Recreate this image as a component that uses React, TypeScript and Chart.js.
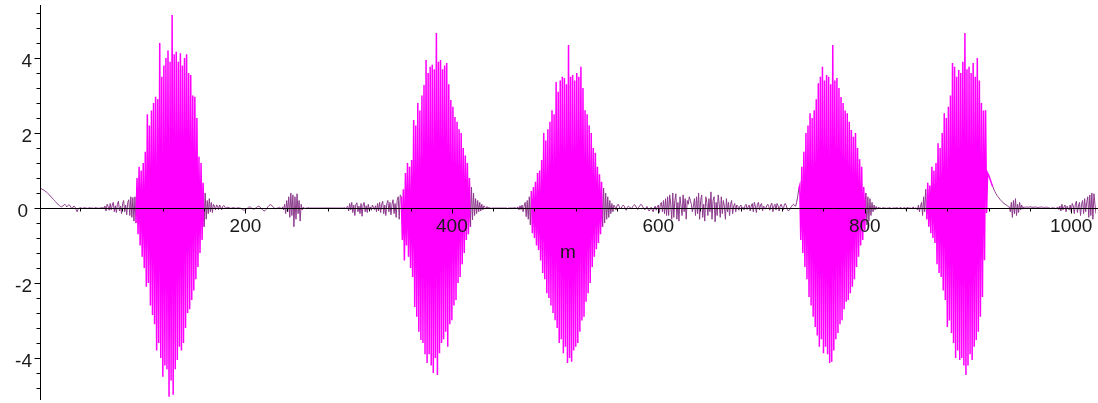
import React, { useEffect, useRef } from "react";
import { Chart, registerables } from "chart.js";

Chart.register(...registerables);

// ---- axis ranges & ticks ----
const X_MIN = 1;
const X_MAX = 1024;
const Y_MIN = -5.12;
const Y_MAX = 5.387;
const xMajorTicks = [200, 400, 600, 800, 1000];
const xMinorStep = 40;
const yMajorTicks = [-4, -2, 0, 2, 4];
const yMinorStep = 0.4;
const xAxisTitle = "m";

// ---- signal samples (segment start index, values) ----
const lead = [
  0.53, 0.52, 0.5, 0.49, 0.47, 0.45, 0.43, 0.41, 0.38, 0.35, 0.32, 0.29, 0.26, 0.23, 0.2, 0.17, 0.14, 0.11, 0.08, 0.06, 0.04, 0.03,
  0.05, 0.08, 0.1, 0.07, 0.03, 0.06, 0.09, 0.06, 0.02, -0.02, 0.03, 0.05, 0.02, -0.04, -0.1, -0.03,
  0, 0.01, 0, -0.01, 0, 0.01, 0, 0, -0.01, 0, 0.01, 0, 0, 0, -0.01, 0, 0.01, 0, 0, -0.01, 0, 0, 0.01, 0, 0,
  0.05, -0.08, 0.1, 0.04, -0.06, 0.12, -0.05, 0.08, 0.15, -0.1, 0.06, -0.12, 0.1, 0.18, -0.08, 0.05, -0.15, 0.12, 0.2, -0.1,
  0.08, -0.18, 0.15, 0.22, -0.2, 0.3, -0.25, 0.28, -0.35,
];
const burst1 = [
  0.3, -0.4, 0.8, -0.7, 1.1, -1.0, 1.0, -1.3, 1.2, -1.6, 1.5, -2.1, 2.5, -2.0, 2.2, -2.6, 2.6, -2.85, 2.8, -3.1,
  2.97, -3.8, 2.9, -3.6, 4.4, -4.0, 3.5, -4.5, 3.8, -4.2, 4.0, -4.3, 4.2, -5.03, 3.9, -4.6, 5.15, -4.98, 4.1, -4.3,
  4.17, -4.05, 3.9, -3.7, 4.13, -3.8, 3.8, -3.6, 4.0, -3.2, 4.1, -2.8, 3.6, -2.7, 3.55, -2.45, 3.0, -2.2, 2.97, -1.9,
  2.4, -1.57, 1.37, -1.2, 1.2, -0.85, 0.67, -0.5, 0.4,
];
const tail1 = [-0.3, 0.2, -0.15, 0.25, -0.1, 0.15, -0.12, 0.1, 0.05, -0.05, 0.08];
const quiet1 = [
  0.06, -0.04, 0.08, 0.03, -0.05, 0.04, 0.07, 0.02,
  0, 0.01, 0.02, 0.01, 0, -0.01, 0, 0.01, 0, 0, -0.01, 0, 0.01, 0, 0,
  -0.02, -0.04, -0.05, -0.06, -0.05, -0.03, 0, 0.02, 0.03, 0.02, 0, -0.02, -0.03, -0.02, 0, 0.02, 0.04, 0.05, 0.03, 0,
  -0.03, -0.06, -0.08, -0.07, -0.04, 0, 0.04, 0.07, 0.09, 0.08, 0.05, 0.02, 0, -0.02, -0.01, 0, 0.01, 0.02, 0, -0.02, 0.03, -0.05,
];
const blip1 = [0.1, -0.15, 0.2, -0.1, 0.3, -0.25, 0.4, -0.2, 0.35, -0.5, 0.3, -0.3, 0.38, -0.15, 0.2, -0.35, 0.1, -0.05];
const flat1 = [
  0.02, 0, -0.01, 0, 0, 0.01, 0, 0, 0, 0, 0, 0, 0, 0, 0, 0, 0, 0, 0, 0, 0, 0,
  0, 0, 0, 0, 0, 0, 0, 0, 0, 0, 0, 0, 0, 0, 0, 0, 0, 0, 0.01, -0.01, 0.02,
];
const noise1 = [
  0.05, -0.08, 0.12, -0.05, 0.15, -0.12, 0.08, -0.2, 0.1, 0.14, -0.1, 0.05, -0.15, 0.12, -0.22, 0.08, 0.15, -0.1, 0.06, -0.12,
  0.1, -0.05, 0.03, -0.06, 0.08, 0.02, -0.04, 0.06, -0.1, 0.12, -0.08, 0.15, -0.12, 0.1, 0.18, -0.15, 0.08, -0.2, 0.12, 0.2,
  -0.1, 0.15, -0.18, 0.1, 0.22, -0.15, 0.12, -0.25, 0.2, 0.3, -0.3, 0.35,
];
const burst2 = [
  0.3, -0.85, 0.5, -1.4, 0.93, -1.0, 1.2, -1.3, 1.1, -1.6, 1.28, -1.84, 2.35, -2.64, 2.2, -2.9, 2.8, -3.3, 2.6, -3.52,
  3.0, -3.6, 3.28, -3.9, 3.95, -4.13, 3.6, -3.9, 3.77, -4.2, 3.82, -4.4, 3.7, -4.0, 4.67, -4.45, 3.9, -3.87, 3.95, -3.6,
  3.7, -3.5, 3.8, -3.3, 3.87, -3.7, 3.3, -3.1, 2.88, -2.99, 2.7, -2.6, 2.43, -2.45, 2.3, -2.0, 2.1, -1.84, 2.0, -1.5,
  1.6, -1.2, 1.4, -0.85, 1.2, -0.7, 0.8, -0.5, 0.56, -0.32, 0.4, -0.2, 0.25, -0.15, 0.2,
];
const quiet2 = [
  -0.1, 0.15, -0.08, 0.1, -0.05, 0.06, 0.02, -0.03, 0.04, 0,
  0.01, 0, -0.01, 0, 0, 0, 0, 0, 0, 0,
  0, 0, 0, 0, 0, 0, 0, 0, -0.02, 0,
  0, 0, 0, 0, 0, 0.01, 0, -0.01, 0.03, -0.05, 0.06, -0.04, 0.08, -0.1, 0.05,
];
const burst3 = [
  0.15, -0.23, 0.2, -0.3, 0.3, -0.45, 0.45, -0.67, 0.56, -0.8, 0.7, -1.0, 0.93, -1.12, 1.0, -1.4, 1.28, -1.73, 2.0, -1.9,
  1.8, -2.27, 2.1, -2.4, 2.3, -2.6, 2.61, -2.8, 2.5, -2.99, 3.36, -3.2, 3.1, -3.6, 3.4, -3.5, 3.5, -3.87, 3.47, -3.7,
  3.3, -4.13, 4.35, -4.0, 3.5, -4.1, 3.55, -3.8, 3.4, -3.7, 3.6, -3.6, 3.5, -3.3, 3.77, -3.0, 3.2, -2.9, 2.61, -2.5,
  2.5, -2.27, 2.21, -2.0, 2.0, -1.57, 1.6, -1.3, 1.47, -1.1, 1.1, -0.93, 0.9, -0.7, 0.7, -0.5, 0.53, -0.4, 0.4, -0.3, 0.3,
];
const quiet3 = [
  -0.25, 0.2, -0.15, 0.12, -0.1, 0.08, 0.03, -0.05, 0.06, 0.1,
  0.05, -0.02, 0, 0.04, 0.08, 0.05, -0.03, -0.06, 0.02, 0.05,
  0.03, 0, -0.02, 0.03, 0.07, 0.09, 0.05, 0, -0.04, 0.02,
  0.06, 0.1, 0.08, 0.03, -0.02, -0.05, 0, 0.04, -0.03, -0.08,
  -0.04, 0.02, -0.05, -0.1, 0, 0.05, -0.06, 0.03, 0.08, -0.12,
  0.1, 0.15, -0.1, 0.2, -0.15, 0.25, -0.2,
];
const noise2 = [
  0.3, -0.2, 0.35, 0.1, -0.3, 0.4, -0.25, 0.2, 0.38, -0.3, 0.15, -0.35, 0.3, 0.05, -0.2, 0.35, -0.1, 0.25, -0.3, 0.2,
  0.1, 0.3, 0.2, 0.1, -0.1, 0.05, 0.25, -0.2, 0.3, -0.15, 0.4, -0.3, 0.2, 0.35, -0.25, 0.1, -0.35, 0.3, 0.15, -0.2,
  0.25, -0.1, 0.43, -0.3, 0.2, 0.3, -0.37, 0.15, -0.2, 0.35, 0.1, -0.25, 0.3, -0.15, 0.2, 0.05, -0.3, 0.25, -0.1, 0.15,
  -0.2, 0.1, 0.2, -0.15, 0.05, 0.12, -0.1, 0.08,
];
const quiet4 = [
  0.05, -0.06, 0.04, 0.08, -0.03, 0.02, -0.05, 0.06, 0.1, -0.04, 0.03, 0.08, -0.08, 0.05, 0.12, -0.1, 0.15, 0.05, -0.12, 0.1,
  0.15, -0.05, 0.08, 0.12, -0.08, 0.05, 0.02, -0.03, 0.06, 0.1, 0.04, -0.06, 0.08, 0.13, -0.1, 0.05, 0.1, -0.05, 0.12, 0.06,
  -0.08, 0.05, 0.1, 0.02, -0.05, 0.08, 0.12, 0.06, -0.04, -0.08, -0.05, 0, 0.04, 0.08, 0.1, 0.06, 0.05, 0.15, 0.3, 0.5,
];
const burst4 = [
  0.6, -0.85, 1.1, -1.2, 1.5, -1.57, 2.0, -1.9, 2.2, -2.37, 2.53, -2.6, 2.4, -2.9, 2.61, -3.17, 2.9, -3.4, 3.33, -3.7,
  3.5, -3.5, 3.77, -3.87, 3.4, -3.7, 3.55, -3.9, 3.5, -4.13, 3.3, -4.1, 4.35, -3.8, 3.4, -3.5, 3.47, -3.33, 3.2, -3.1,
  2.96, -2.99, 2.8, -2.7, 2.6, -2.5, 2.53, -2.45, 2.3, -2.27, 2.08, -2.1, 1.9, -1.9, 2.0, -1.57, 1.6, -1.3, 1.3, -1.0,
  1.1, -0.85, 0.56, -0.6, 0.4, -0.45, 0.3, -0.35, 0.25, -0.2, 0.15, -0.1, 0.08,
];
const quiet5 = [
  -0.05, 0.04, -0.03, 0.02, 0, 0.01, -0.02, 0, 0.01, 0, 0, -0.01, 0, 0, 0.01, 0, -0.02, 0, 0, 0,
  0, 0.01, 0, -0.01, 0, 0.02, -0.03, 0, 0, 0.01, -0.04, 0.02, 0, 0, 0, -0.01, 0, 0.03, -0.02, 0,
  0, -0.05, 0.08, -0.1, 0.05, 0.15, -0.2, 0.3, -0.1, 0.5, -0.3, 0.67, -0.5,
];
const burst5 = [
  0.6, -0.67, 1.1, -0.8, 1.0, -0.93, 1.2, -1.5, 1.73, -1.73, 1.6, -1.84, 2.0, -2.2, 2.53, -2.45, 2.4, -3.17, 2.7, -3.0,
  3.0, -3.33, 3.87, -3.6, 3.77, -4.0, 3.5, -3.8, 3.68, -4.05, 3.6, -4.0, 3.9, -4.2, 4.67, -4.45, 3.7, -4.2, 3.77, -3.9,
  3.6, -4.05, 3.87, -3.7, 3.5, -3.52, 4.0, -3.3, 3.4, -2.9, 2.8, -2.37, 2.6, -1.39, 2.61, -0.13,
];
const decay = [
  0.93, 0.88, 0.8, 0.72, 0.64, 0.57, 0.5, 0.44, 0.39, 0.34, 0.3, 0.27, 0.23, 0.2, 0.17, 0.14, 0.12, 0.1, 0.08, 0.06, 0.04, 0.03,
];
const blip2 = [-0.1, 0.15, -0.25, 0.2, -0.15, 0.25, -0.2, 0.1, -0.12, 0.15, -0.05, 0.08, -0.03];
const flat2 = [
  0.03, 0.02, 0.02, 0.03, 0.02, 0.02, 0.03, 0.03, 0.02, 0.02, 0.02, 0.03, 0.02, 0.02, 0.01, 0.02, 0.02, 0.03,
  0.02, 0.02, 0.01, 0.02, 0.02, 0.02, 0.01, 0, -0.01, 0, 0.01, 0, 0, -0.02, 0, 0.03, -0.04,
];
const noise3 = [
  0.05, -0.08, 0.1, -0.05, 0.03, 0.08, -0.1, 0.05, 0, -0.05,
  0.08, -0.1, 0.12, 0.05, -0.15, 0.1, 0.18, -0.12, 0.05, 0.15,
  -0.2, 0.1, 0.2, -0.15, 0.25, -0.1, 0.15, 0.3, -0.25, 0.35,
  -0.2, 0.4, -0.3, 0.38, 0.1, -0.15,
];

const segments: [number, number[]][] = [
  [1, lead], [93, burst1], [162, tail1], [173, quiet1], [238, blip1], [256, flat1],
  [299, noise1], [351, burst2], [426, quiet2], [471, burst3], [552, quiet3], [609, noise2],
  [677, quiet4], [737, burst4], [810, quiet5], [863, burst5], [919, decay], [941, blip2],
  [954, flat2], [989, noise3],
];

const LOUD = "#ff00ff";
const QUIET = "#8c3a8c";
const AXIS_COLOR = "#000000";
const LABEL_COLOR = "#1a1a1a";
const FONT = '19px "Liberation Sans", Arial, sans-serif';

const axesPlugin = {
  id: "mapleAxes",
  afterDatasetsDraw(chart: any) {
    const { ctx } = chart;
    const xs = chart.scales.x;
    const ys = chart.scales.y;
    const ax = Math.round(xs.getPixelForValue(X_MIN)) + 0.5;
    const ay = Math.round(ys.getPixelForValue(0)) + 0.5;
    ctx.save();
    ctx.strokeStyle = AXIS_COLOR;
    ctx.lineWidth = 1;
    ctx.beginPath();
    ctx.moveTo(xs.left, ay);
    ctx.lineTo(xs.right + 2, ay);
    ctx.moveTo(ax, ys.top - 1);
    ctx.lineTo(ax, ys.bottom);
    // y ticks
    const kMin = Math.ceil(Y_MIN / yMinorStep);
    const kMax = Math.floor(Y_MAX / yMinorStep);
    for (let k = kMin; k <= kMax; k++) {
      const v = k * yMinorStep;
      const py = Math.round(ys.getPixelForValue(v)) + 0.5;
      const major = k % 5 === 0;
      ctx.moveTo(ax - (major ? 6 : 4), py);
      ctx.lineTo(ax, py);
    }
    // x ticks
    for (let v = xMinorStep; v <= X_MAX; v += xMinorStep) {
      const px = Math.round(xs.getPixelForValue(v)) + 0.5;
      const major = v % 200 === 0;
      ctx.moveTo(px, ay);
      ctx.lineTo(px, ay + (major ? 5 : 3));
    }
    ctx.stroke();

    ctx.fillStyle = LABEL_COLOR;
    ctx.font = FONT;
    ctx.textBaseline = "alphabetic";
    ctx.textAlign = "center";
    xMajorTicks.forEach((v) => {
      ctx.fillText(String(v), xs.getPixelForValue(v), ay + 23.5);
    });
    ctx.textAlign = "right";
    yMajorTicks.forEach((v) => {
      const py = ys.getPixelForValue(v);
      const right = v === 0 ? ax - 12.5 : ax - 8.5;
      ctx.fillText(String(v), right, py + 8.5);
    });
    ctx.textAlign = "center";
    ctx.fillText(xAxisTitle, xs.getPixelForValue((X_MIN + X_MAX) / 2), ay + 49.5);
    ctx.restore();
  },
};

export default function App() {
  const ref = useRef<HTMLCanvasElement | null>(null);
  useEffect(() => {
    if (!ref.current) return;
    const points: { x: number; y: number }[] = [];
    segments.forEach(([start, vals]) => {
      vals.forEach((v, i) => points.push({ x: start + i, y: v }));
    });
    const thr = 0.6;
    const quiet = (c: any) => Math.abs(c.p0.parsed.y) < thr && Math.abs(c.p1.parsed.y) < thr;
    const chart = new Chart(ref.current, {
      type: "line",
      data: {
        datasets: [
          {
            data: points,
            borderColor: LOUD,
            borderWidth: 1,
            pointRadius: 0,
            tension: 0,
            fill: false,
            segment: {
              borderColor: (c: any) => (quiet(c) ? QUIET : LOUD),
              borderWidth: (c: any) => (quiet(c) ? 1 : 1.5),
            },
          },
        ],
      },
      options: {
        animation: false,
        responsive: false,
        devicePixelRatio: 1,
        events: [],
        layout: { padding: { left: 40, right: 2, top: 6, bottom: 3 } },
        scales: {
          x: { type: "linear", min: X_MIN, max: X_MAX, display: false },
          y: { type: "linear", min: Y_MIN, max: Y_MAX, display: false },
        },
        plugins: { legend: { display: false }, tooltip: { enabled: false } },
      },
      plugins: [axesPlugin],
    });
    return () => chart.destroy();
  }, []);
  return (
    <div style={{ position: "fixed", left: 0, top: 0, width: 1098, height: 403, background: "#fff" }}>
      <canvas ref={ref} width={1098} height={403} style={{ display: "block", width: 1098, height: 403 }} />
    </div>
  );
}
